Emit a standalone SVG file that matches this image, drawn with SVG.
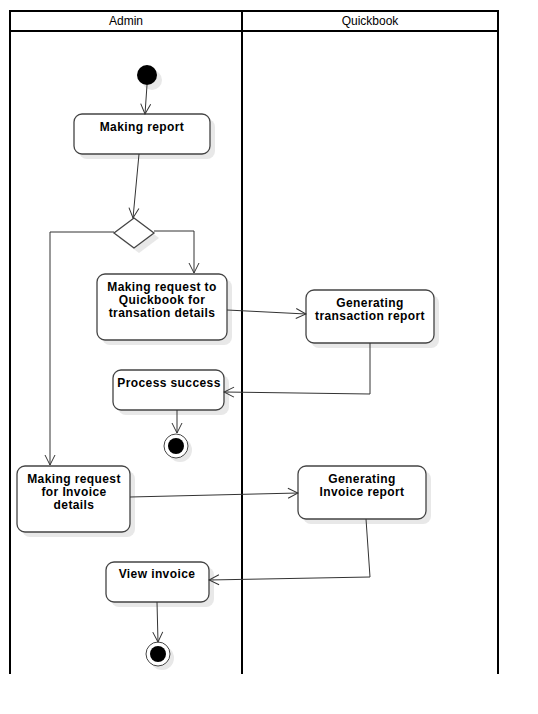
<svg xmlns="http://www.w3.org/2000/svg" width="538" height="714" viewBox="0 0 538 714">
<defs>
<marker id="arr" viewBox="0 0 12 12" refX="11" refY="6" markerWidth="12" markerHeight="12" markerUnits="userSpaceOnUse" orient="auto">
<path d="M1,1 L11,6 L1,11" fill="none" stroke="#333" stroke-width="1"/>
</marker>
</defs>
<style>
.lane{fill:none;stroke:#000;stroke-width:2}
.hdr{font-family:"Liberation Sans",Arial,sans-serif;font-size:12px;fill:#000;text-anchor:middle}
.box{fill:#fff;stroke:#444;stroke-width:1.3}
.sh{fill:#e8e8e8;stroke:none}
.lbl{font-family:"Liberation Sans",Arial,sans-serif;font-size:12px;letter-spacing:0.4px;font-weight:bold;fill:#000;text-anchor:middle}
.con{fill:none;stroke:#333;stroke-width:1;marker-end:url(#arr)}
</style>
<rect width="538" height="714" fill="#fff"/>
<g id="swimlanes">
<path class="lane" d="M10,674 V11 H498 V674 M242,11 V674 M10,31 H498"/>
<text class="hdr" x="126" y="25">Admin</text>
<text class="hdr" x="370" y="25">Quickbook</text>
</g>
<g id="start">
<circle cx="152" cy="80" r="10" fill="#e8e8e8"/>
<circle cx="147" cy="75" r="10" fill="#000"/>
</g>
<g id="making-report">
<rect class="sh" x="79" y="119" width="136" height="40" rx="8"/>
<rect class="box" x="74" y="114" width="136" height="40" rx="8"/>
<text class="lbl" x="142" y="131">Making report</text>
</g>
<g id="decision">
<path class="sh" d="M139,223 L159,238 L139,253 L119,238 Z"/>
<path class="box" d="M134,218 L154,233 L134,248 L114,233 Z"/>
</g>
<g id="request-transaction">
<rect class="sh" x="102" y="279" width="130" height="66" rx="8"/>
<rect class="box" x="97" y="274" width="130" height="66" rx="8"/>
<text class="lbl" x="162" y="291">Making request to</text>
<text class="lbl" x="162" y="304">Quickbook for</text>
<text class="lbl" x="162" y="317">transation details</text>
</g>
<g id="generating-transaction">
<rect class="sh" x="311" y="295" width="128" height="53" rx="8"/>
<rect class="box" x="306" y="290" width="128" height="53" rx="8"/>
<text class="lbl" x="370" y="307">Generating</text>
<text class="lbl" x="370" y="320">transaction report</text>
</g>
<g id="process-success">
<rect class="sh" x="118" y="375" width="111" height="40" rx="8"/>
<rect class="box" x="113" y="370" width="111" height="40" rx="8"/>
<text class="lbl" x="169" y="387">Process success</text>
</g>
<g id="end1">
<circle cx="180" cy="450" r="12" fill="#e8e8e8"/>
<circle cx="176" cy="446" r="12" fill="#fff" stroke="#444" stroke-width="1"/>
<circle cx="176" cy="446" r="8" fill="#000"/>
</g>
<g id="request-invoice">
<rect class="sh" x="22" y="471" width="113" height="66" rx="8"/>
<rect class="box" x="17" y="466" width="113" height="66" rx="8"/>
<text class="lbl" x="74" y="483">Making request</text>
<text class="lbl" x="74" y="496">for Invoice</text>
<text class="lbl" x="74" y="509">details</text>
</g>
<g id="generating-invoice">
<rect class="sh" x="303" y="471" width="128" height="53" rx="8"/>
<rect class="box" x="298" y="466" width="128" height="53" rx="8"/>
<text class="lbl" x="362" y="483">Generating</text>
<text class="lbl" x="362" y="496">Invoice report</text>
</g>
<g id="view-invoice">
<rect class="sh" x="111" y="567" width="103" height="40" rx="8"/>
<rect class="box" x="106" y="562" width="103" height="40" rx="8"/>
<text class="lbl" x="157" y="578">View invoice</text>
</g>
<g id="end2">
<circle cx="162" cy="658" r="12" fill="#e8e8e8"/>
<circle cx="158" cy="654" r="12" fill="#fff" stroke="#444" stroke-width="1"/>
<circle cx="158" cy="654" r="8" fill="#000"/>
</g>
<g id="connectors">
<path class="con" d="M147,85 L145,114"/>
<path class="con" d="M139,154 L133,218"/>
<path class="con" d="M154,231 H194 V273"/>
<path class="con" d="M114,232 H50 V465"/>
<path class="con" d="M227,310 L306,314"/>
<path class="con" d="M370,343 V394 L224,392"/>
<path class="con" d="M177,410 V433"/>
<path class="con" d="M130,497 L298,493"/>
<path class="con" d="M366,519 L370,577 L209,580"/>
<path class="con" d="M157,602 L158,642"/>
</g>
</svg>
